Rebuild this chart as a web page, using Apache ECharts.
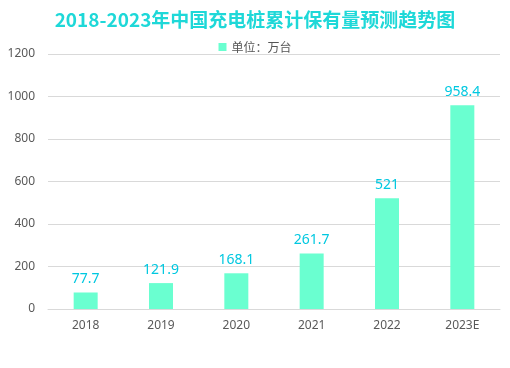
<!DOCTYPE html>
<html><head><meta charset="utf-8">
<script src="https://cdn.jsdelivr.net/npm/echarts@6/dist/echarts.min.js"></script>
<style>html,body{margin:0;padding:0;background:#fff}#c{width:510px;height:368px}</style>
</head><body><div id="c"></div>
<script>
const categories = ['2018','2019','2020','2021','2022','2023E'];
const values = [77.7, 121.9, 168.1, 261.7, 521, 958.4];
const seriesName = '单位：万台';
const chart = echarts.init(document.getElementById('c'));
chart.setOption({
  animation: false,
  title: {text: '2018-2023年中国充电桩累计保有量预测趋势图', left: 'center', top: 5,
    textStyle: {color: '#1ed8d8', fontSize: 19, fontWeight: 'bold', fontFamily: 'Noto Sans CJK SC'}},
  legend: {top: 36, left: 'center', itemWidth: 8, itemHeight: 8, icon: 'rect', itemGap: 4,
    textStyle: {color: '#555', fontSize: 12, fontFamily: 'Noto Sans CJK SC'}},
  grid: {left: 48, right: 10, top: 54, bottom: 59},
  xAxis: {type: 'category', data: categories,
    axisLine: {lineStyle: {color: '#d9d9d9'}}, axisTick: {show: false},
    axisLabel: {color: '#595959', fontSize: 12, margin: 11, fontFamily: 'Noto Sans'}},
  yAxis: {type: 'value', min: 0, max: 1200, interval: 200,
    axisLine: {show: false}, axisTick: {show: false},
    splitLine: {lineStyle: {color: '#d9d9d9'}},
    axisLabel: {color: '#595959', fontSize: 12, margin: 13, fontFamily: 'Noto Sans', formatter: v => String(v)}},
  series: [{name: seriesName, type: 'bar', data: values, barWidth: 24,
    itemStyle: {color: '#6affd0'},
    label: {show: true, position: 'top', color: '#00c8e0', fontSize: 14, distance: 6, fontFamily: 'Noto Sans'}}]
});
</script></body></html>
